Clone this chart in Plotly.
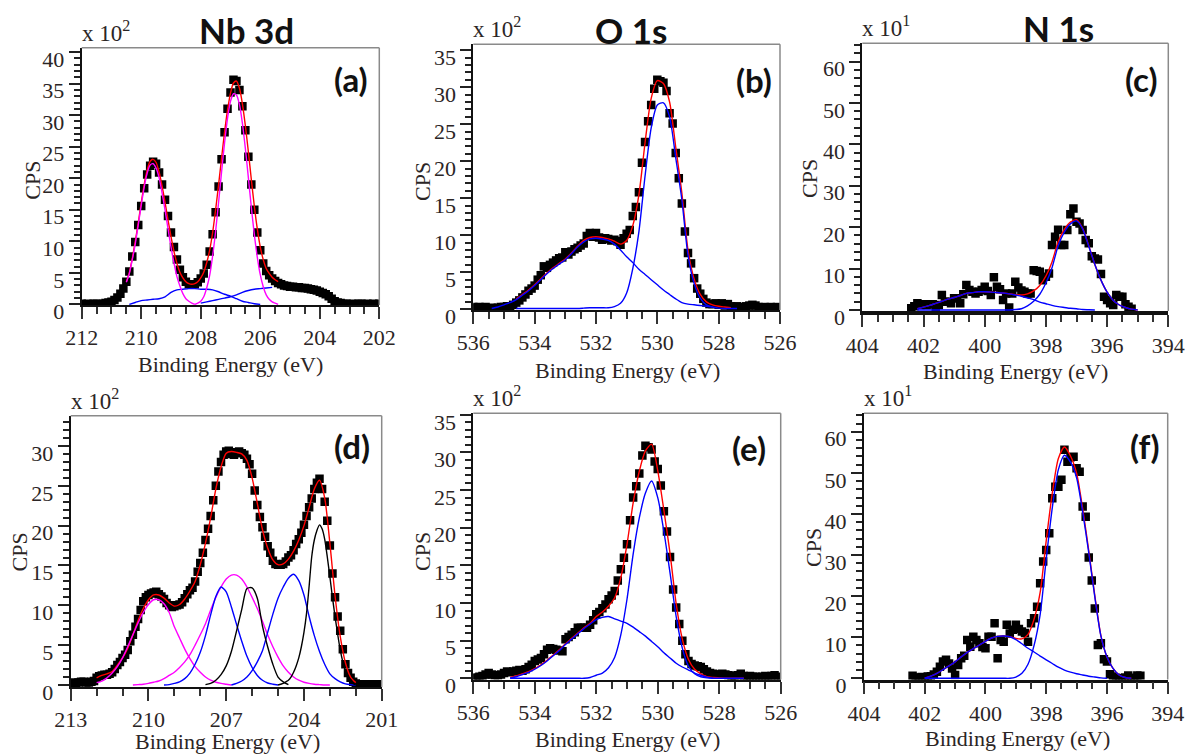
import plotly.graph_objects as go

W, H = 1188, 754

RED = "#ff0000"
MAGENTA = "#ff00ff"
BLUE = "#0000ff"
BLACK = "#000000"
TEXT = "#2b2525"
SERIF = "Liberation Serif"
SANS = "Lato"


def energies(start, step, values):
    return [round(start - step * i, 3) for i in range(len(values))]


# ---------------- (a) Nb 3d, sample 1 ----------------
a_counts_start = 212.0
a_counts = [
    0.1, 0.0, 0.1, 0.0, 0.1, 0.1, 0.0, 0.1, 0.2,
    0.3, 0.4, 0.7, 1.1, 1.7, 2.5,
    3.6, 5.2, 7.6, 9.9, 12.6, 15.6, 18.4, 20.6, 22.0, 22.6,
    22.3, 20.9, 19.0, 16.6, 14.0, 11.4, 9.1, 7.1, 5.5, 4.3,
    3.6, 3.2, 3.1, 3.2, 3.5, 4.1, 4.9, 6.3, 8.4, 11.1,
    14.6, 18.7, 23.0, 27.3, 31.0, 33.6, 35.6, 35.4, 34.0, 31.4,
    27.6, 23.4, 19.0, 15.0, 11.4, 8.6, 6.5, 5.3, 4.6, 4.1,
    3.7, 3.4, 3.2, 3.0, 2.9, 2.8, 2.8, 2.7, 2.7, 2.6,
    2.6, 2.5, 2.4, 2.3, 2.2, 2.0, 1.8, 1.6, 1.3, 0.9,
    0.5, 0.3, 0.2, 0.1,
    0.1, 0.0, 0.1, 0.0, 0.1, 0.1, 0.0, 0.1, 0.0, 0.1, 0.0, 0.1,
]
a_env_start = 210.5
a_env = [
    3.6, 5.0, 7.3, 10.0, 12.9, 16.1, 19.0, 21.3, 22.7, 23.0,
    22.5, 21.0, 18.8, 16.2, 13.4, 10.8, 8.4, 6.5, 5.1, 4.2,
    3.6, 3.3, 3.2, 3.3, 3.6, 4.2, 5.1, 6.6, 8.6, 11.4,
    15.0, 19.0, 23.2, 27.3, 30.8, 33.5, 35.1, 35.4, 34.3, 31.8,
    28.3, 24.2, 19.8, 15.6, 12.0, 9.1, 7.1, 5.7, 4.9, 4.3,
    3.9, 3.6,
]
a_d32_start = 210.5
a_d32 = [
    3.5, 4.9, 7.1, 9.6, 12.6, 15.7, 18.6, 20.8, 22.1, 22.3,
    21.6, 20.1, 17.7, 15.0, 12.0, 9.1, 6.6, 4.4, 2.9, 1.7,
    0.9, 0.5, 0.2, 0.0,
]
a_d52_start = 208.2
a_d52 = [
    0.0, 0.2, 0.5, 1.2, 2.6, 4.6, 7.7, 11.6, 16.2, 21.0,
    25.6, 29.5, 32.2, 33.4, 33.2, 31.7, 28.7, 24.7, 20.1, 15.4,
    11.1, 7.5, 4.7, 2.8, 1.5, 0.8, 0.4, 0.2, 0.0,
]
a_sat1_start = 210.4
a_sat1 = [
    0.0, 0.3, 0.6, 0.7, 0.8, 0.9, 1.2, 1.9, 2.3, 2.4,
    2.5, 2.5, 2.4, 2.4, 2.3, 2.0, 1.6, 1.3, 0.9, 0.5,
    0.3, 0.1, 0.0,
]
a_sat2_start = 208.0
a_sat2 = [0.2, 0.4, 0.6, 0.8, 1.0, 1.2, 1.5, 1.9, 2.2, 2.4, 2.5, 2.6, 2.7]

# ---------------- (b) O 1s, sample 1 ----------------
b_counts_start = 536.0
b_counts = [
    0.3, 0.2, 0.3, 0.2, 0.3, 0.1, 0.2, 0.1, 0.2, 0.3,
    0.3, 0.4, 0.4, 0.6, 0.9, 1.2, 1.6, 2.0, 2.5, 2.8,
    3.2, 4.0, 4.6, 5.8, 5.6, 6.0, 6.3, 6.6, 6.9, 7.0,
    7.7, 7.4, 7.8, 8.1, 8.3, 8.6, 8.9, 9.9, 10.3, 9.8,
    10.3, 9.7, 9.4, 9.6, 9.5, 9.3, 9.4, 9.2, 8.7, 9.6,
    10.2, 10.7, 12.6, 13.8, 15.8, 19.8, 22.6, 25.4, 27.6, 29.8,
    31.0, 30.8, 30.6, 29.5, 26.5, 25.1, 21.1, 17.7, 14.3, 10.5,
    7.6, 6.2, 4.2, 2.8, 2.1, 1.4, 0.9, 0.7, 0.7, 0.8,
    0.6, 0.8, 0.5, 0.7, 0.4, 0.3, 0.4, 0.2, 0.3, 0.4,
    0.5, 0.6, 0.5, 0.3, 0.2, 0.3, 0.2, 0.3, 0.2, 0.3,
    0.2,
]
b_env_start = 534.6
b_env = [
    1.4, 2.0, 2.6, 3.3, 4.1, 4.9, 5.6, 6.2, 6.8, 7.6,
    8.5, 9.3, 9.7, 9.8, 9.7, 9.5, 9.2, 8.8, 9.3, 11.3,
    15.5, 22.5, 28.5, 30.9, 30.5, 28.0, 21.9, 15.7, 8.0, 4.1,
    2.0, 1.0, 0.6, 0.4, 0.3, 0.2,
]
b_oh_start = 535.4
b_oh = [
    0.1, 0.3, 0.6, 0.9, 1.3, 1.9, 2.5, 3.2, 4.0, 4.8,
    5.5, 6.1, 6.7, 7.5, 8.4, 9.1, 9.5, 9.6, 9.5, 9.3,
    8.8, 8.0, 7.1, 6.3, 5.4, 4.7, 4.0, 3.3, 2.6, 2.0,
    1.4, 0.9, 0.7, 0.6, 0.5, 0.4, 0.3,
]
b_ox_start = 534.6
b_ox = [
    0.1, 0.1, 0.1, 0.1, 0.1, 0.1, 0.1, 0.1, 0.1, 0.1,
    0.1, 0.15, 0.2, 0.2, 0.2, 0.2, 0.35, 0.8, 2.2, 5.5,
    10.5, 18.0, 24.5, 27.6, 27.9, 26.0, 20.5, 14.8, 7.3, 3.5,
    1.5, 0.6, 0.3, 0.15, 0.1, 0.1, 0.1,
]

# ---------------- (c) N 1s, sample 1 ----------------
c_counts_start = 402.4
c_counts = [
    0.4, 0.9, 1.6, 1.2, 1.4, 1.2, 1.4, 1.4, 0.8, 1.2,
    3.6, 2.0, 2.0, 1.6, 2.8, 2.8, 1.6, 3.8, 6.0, 4.8,
    4.4, 4.0, 4.4, 4.8, 5.6, 4.6, 3.6, 7.9, 5.6, 5.0,
    2.4, 4.0, 0.6, 4.0, 6.8, 5.4, 4.7, 4.4, 4.0, 4.0,
    9.6, 9.4, 9.2, 7.2, 8.0, 8.8, 15.7, 17.7, 19.4, 15.7,
    15.7, 19.3, 23.1, 24.5, 21.3, 20.9, 19.3, 16.9, 16.1, 13.0,
    12.4, 12.2, 8.7, 3.2, 2.4, 1.6, 1.2, 3.6, 3.2, 3.2,
    1.4, 0.8, 0.3,
]
c_env_start = 402.2
c_env = [
    0.3, 0.7, 1.1, 1.6, 2.1, 2.6, 3.0, 3.5, 4.0, 4.2,
    4.4, 4.4, 4.3, 4.2, 4.1, 3.9, 3.7, 3.6, 3.9, 4.6,
    5.9, 8.2, 11.6, 16.5, 19.4, 21.2, 21.8, 19.7, 15.5, 11.0,
    7.2, 4.3, 2.3, 1.2, 0.6, 0.2, 0.0,
]
c_high_start = 402.2
c_high = [
    0.3, 0.7, 1.1, 1.6, 2.1, 2.6, 3.0, 3.5, 4.0, 4.2,
    4.4, 4.4, 4.3, 4.2, 4.1, 3.9, 3.6, 3.3, 2.9, 2.5,
    1.9, 1.5, 1.1, 0.8, 0.6, 0.4, 0.3, 0.1, 0.05, 0.0,
]
c_nitride_start = 402.2
c_nitride = [
    0.0, 0.0, 0.0, 0.0, 0.0, 0.0, 0.0, 0.0, 0.0, 0.0,
    0.0, 0.0, 0.0, 0.0, 0.0, 0.0, 0.1, 0.3, 1.0, 2.1,
    3.8, 6.5, 10.2, 15.5, 18.8, 20.8, 21.5, 19.6, 15.4, 11.0,
    7.2, 4.3, 2.3, 1.2, 0.6, 0.2, 0.0,
]

# ---------------- (d) Nb 3d, sample 2 ----------------
d_counts_start = 213.0
d_counts = [
    0.2, 0.3, 0.2, 0.3, 0.4, 0.4, 0.3, 0.3, 0.4, 0.5,
    0.9, 1.1, 1.2, 1.3, 1.3, 1.4, 1.6, 2.0, 2.5, 2.9,
    3.4, 3.8, 4.4, 5.5, 6.3, 7.3, 8.3, 9.4, 10.5, 11.0,
    11.3, 11.5, 11.6, 11.7, 11.4, 11.1, 10.8, 10.3, 10.0, 9.8,
    9.9, 10.0, 10.1, 10.4, 10.9, 11.4, 11.9, 12.2, 13.0, 14.2,
    15.3, 16.6, 18.2, 19.6, 21.2, 23.2, 25.0, 26.8, 28.0, 28.9,
    29.3, 29.4, 29.0, 28.9, 29.2, 29.3, 29.1, 28.9, 28.4, 27.7,
    26.5, 24.4, 22.6, 21.1, 19.8, 18.6, 17.4, 16.6, 15.6, 15.2,
    15.1, 15.1, 15.2, 15.5, 16.0, 16.3, 16.9, 17.7, 18.3, 19.1,
    20.1, 21.2, 22.3, 23.4, 24.6, 25.4, 25.9, 24.6, 23.0, 20.6,
    17.5, 14.0, 11.0, 8.6, 6.8, 4.5, 2.6, 1.5, 0.9, 0.4,
    0.2, 0.1, 0.1, 0.1, 0.0, 0.1, 0.1, 0.0, 0.1, 0.1, 0.0,
]
d_env_start = 212.0
d_env = [
    0.9, 1.2, 1.4, 1.7, 2.5, 3.4, 4.6, 6.3, 8.1, 9.6,
    10.7, 11.3, 11.3, 10.9, 10.3, 9.9, 10.1, 10.8, 11.8, 13.0,
    15.1, 17.8, 21.0, 24.6, 27.4, 29.1, 29.3, 29.2, 29.0, 28.2,
    26.0, 22.8, 19.5, 17.2, 15.7, 15.1, 15.2, 15.8, 16.8, 18.2,
    20.0, 22.3, 24.6, 25.7, 23.5, 17.8, 11.2, 6.1, 2.8, 1.0,
    0.3,
]
d_ox32_start = 212.0
d_ox32 = [
    0.3, 0.5, 0.9, 1.5, 2.3, 3.4, 4.8, 6.3, 7.8, 9.1,
    10.1, 10.7, 10.7, 10.2, 9.1, 7.3, 5.9, 4.5, 3.3, 2.3,
    1.6, 1.0, 0.6, 0.35, 0.2, 0.1, 0.0,
]
d_ox52_start = 210.6
d_ox52 = [
    0.0, 0.05, 0.1, 0.2, 0.35, 0.5, 0.8, 1.2, 1.6, 2.2,
    2.9, 3.8, 5.0, 6.3, 7.7, 9.4, 11.0, 12.3, 13.3, 13.8,
    13.8, 13.3, 12.3, 11.0, 9.6, 8.0, 6.3, 4.8, 3.5, 2.4,
    1.6, 1.0, 0.6, 0.35, 0.2, 0.1, 0.05, 0.0, 0.0,
]
d_ni32_start = 209.4
d_ni32 = [
    0.0, 0.05, 0.2, 0.4, 0.8, 1.5, 2.6, 4.1, 6.2, 8.8,
    11.1, 12.3, 11.7, 9.8, 7.6, 5.5, 3.6, 2.2, 1.2, 0.6,
    0.25, 0.1, 0.0,
]
d_sub32_start = 207.8
d_sub32 = [
    0.05, 0.2, 0.6, 1.3, 2.4, 4.2, 6.8, 9.5, 12.1, 12.2,
    10.9, 7.4, 4.8, 2.6, 1.0, 0.4, 0.05,
]
d_ni52_start = 206.8
d_ni52 = [
    0.0, 0.2, 0.5, 1.0, 1.8, 2.9, 4.3, 6.6, 8.9, 10.9,
    12.3, 13.4, 13.9, 13.1, 11.3, 8.6, 6.2, 4.2, 2.6, 1.4,
    0.8, 0.4, 0.15, 0.05, 0.0,
]
d_sub52_start = 205.0
d_sub52 = [
    0.0, 0.1, 0.2, 0.4, 0.6, 1.0, 1.6, 2.4, 3.4, 4.8,
    6.6, 9.0, 12.4, 16.1, 18.2, 19.4, 20.1, 19.6, 18.3, 16.1,
    13.6, 11.0, 8.6, 6.4, 4.4, 2.9, 1.8, 1.1, 0.6, 0.2,
    0.0,
]

# ---------------- (e) O 1s, sample 2 ----------------
e_counts_start = 536.0
e_counts = [
    0.0, 0.1, 0.2, 0.3, 0.5, 0.7, 0.5, 0.4, 0.4, 0.5,
    0.7, 0.9, 0.8, 0.9, 1.0, 1.1, 1.0, 1.2, 1.5, 1.8,
    2.3, 2.5, 2.7, 3.2, 3.8, 4.0, 3.9, 3.8, 3.7, 3.6,
    5.2, 5.5, 5.8, 6.1, 6.7, 6.7, 6.7, 6.7, 7.1, 7.7,
    8.5, 8.8, 9.3, 9.8, 10.5, 11.0, 11.6, 13.0, 14.5, 16.0,
    17.8, 21.0, 24.0, 25.5, 27.2, 29.6, 30.9, 30.7, 30.4, 28.8,
    27.8, 25.6, 22.2, 19.5, 16.1, 11.8, 9.4, 7.2, 5.0, 3.2,
    2.3, 1.9, 1.7, 1.6, 1.5, 1.2, 0.9, 0.7, 0.6, 0.5,
    0.5, 0.6, 0.5, 0.4, 0.3, 0.3, 0.4, 0.6, 0.3, 0.2,
    0.3, 0.2, 0.2, 0.1, 0.2, 0.3, 0.2, 0.3, 0.4, 0.2,
    0.0,
]
e_env_start = 534.8
e_env = [
    0.1, 0.3, 0.6, 0.9, 1.3, 1.8, 2.4, 3.1, 3.8, 4.6,
    5.3, 6.0, 6.7, 7.3, 8.2, 8.8, 9.6, 10.7, 13.4, 17.8,
    23.3, 27.5, 30.2, 31.1, 27.6, 22.3, 16.6, 9.9, 5.2, 2.5,
    1.2, 0.6, 0.2, 0.1, 0.05, 0.0, 0.0, 0.0, 0.0,
]
e_oh_start = 534.8
e_oh = [
    0.0, 0.2, 0.5, 0.8, 1.2, 1.7, 2.3, 3.0, 3.7, 4.5,
    5.2, 5.9, 6.6, 7.2, 7.8, 8.1, 8.2, 7.9, 7.6, 7.3,
    6.8, 6.2, 5.6, 4.9, 4.2, 3.4, 2.7, 2.0, 1.5, 1.1,
    0.7, 0.4, 0.15, 0.0,
]
e_ox_start = 534.8
e_ox = [
    0.0, 0.0, 0.0, 0.0, 0.0, 0.0, 0.0, 0.0, 0.0, 0.0,
    0.0, 0.0, 0.0, 0.1, 0.4, 0.7, 1.4, 2.8, 5.8, 10.5,
    16.5, 21.3, 24.6, 26.2, 24.0, 19.5, 14.0, 8.2, 4.0, 1.6,
    0.6, 0.2, 0.05, 0.0, 0.0, 0.0, 0.0, 0.0, 0.0,
]

# ---------------- (f) N 1s, sample 2 ----------------
f_counts_start = 402.4
f_counts = [
    0.6, 0.2, 0.1, 0.3, 0.2, 0.4, 0.5, 0.9, 1.6, 2.8,
    4.1, 4.5, 3.6, 2.4, 0.8, 3.2, 4.9, 5.5, 9.3, 7.7,
    10.1, 9.3, 8.5, 7.6, 7.3, 10.1, 10.1, 13.4, 4.9, 9.3,
    8.9, 13.0, 10.9, 11.8, 13.0, 12.0, 11.4, 11.0, 8.9, 13.4,
    14.6, 17.4, 23.1, 28.4, 31.2, 35.3, 43.8, 46.6, 46.6, 48.3,
    55.6, 52.7, 53.8, 53.9, 51.1, 50.3, 41.8, 39.3, 29.4, 23.8,
    17.0, 8.1, 8.5, 4.6, 4.1, 1.0, 0.4, 0.1, 0.0, 0.0,
    0.2, 0.7, 0.1, 0.0, 0.7, 0.6,
]
f_env_start = 402.0
f_env = [
    0.0, 0.5, 1.2, 2.1, 3.0, 4.0, 5.2, 6.3, 7.2, 8.1,
    9.0, 9.8, 10.2, 10.3, 10.1, 9.7, 9.6, 10.7, 14.4, 20.9,
    33.5, 45.1, 53.5, 56.3, 54.1, 49.9, 41.3, 31.1, 20.1, 10.4,
    5.2, 2.4, 0.8, 0.2, 0.0,
]
f_high_start = 402.0
f_high = [
    0.0, 0.5, 1.2, 2.1, 3.0, 4.0, 5.2, 6.3, 7.2, 8.1,
    9.0, 9.8, 10.2, 10.3, 10.1, 9.4, 8.4, 7.3, 6.4, 5.4,
    4.5, 3.6, 2.7, 2.0, 1.5, 1.1, 0.8, 0.5, 0.3, 0.1,
    0.0,
]
f_nitride_start = 402.0
f_nitride = [
    0.0, 0.0, 0.0, 0.0, 0.0, 0.0, 0.0, 0.0, 0.0, 0.0,
    0.0, 0.0, 0.0, 0.0, 0.0, 0.3, 1.2, 3.4, 8.0, 15.5,
    29.0, 41.5, 50.8, 54.3, 52.6, 48.8, 40.5, 30.6, 19.8, 10.3,
    5.2, 2.4, 0.8, 0.2, 0.0,
]

# Page geometry of each plot box: (left, top, right, bottom) in pixels
panels = [
    dict(box=(81.7, 47.7, 379.3, 305.0), xrange=[212, 202], yrange=[-0.1, 40.7],
         xdtick=2, xminor=0.5, ydtick=5, yminor=1, exp="2", base_w=2,
         counts=(a_counts_start, 0.1, a_counts),
         curves=[(a_env_start, 0.1, a_env, RED), (a_sat1_start, 0.2, a_sat1, BLUE),
                 (a_sat2_start, 0.2, a_sat2, BLUE), (a_d32_start, 0.1, a_d32, MAGENTA),
                 (a_d52_start, 0.1, a_d52, MAGENTA)],
         title=("Nb 3d", 246, 29.5), label=("(a)", 351, 79),
         cps=(31.7, 180), xlab=(230, 365)),
    dict(box=(473.3, 44.3, 780.0, 310.0), xrange=[536, 526], yrange=[-0.1, 35.8],
         xdtick=2, xminor=0.5, ydtick=5, yminor=1, exp="2", base_w=2,
         counts=(b_counts_start, 0.1, b_counts),
         curves=[(b_env_start, 0.2, b_env, RED), (b_oh_start, 0.2, b_oh, BLUE),
                 (b_ox_start, 0.2, b_ox, BLUE)],
         title=("O 1s", 631, 30), label=("(b)", 754, 80),
         cps=(422, 182), xlab=(627, 370)),
    dict(box=(862.3, 43.3, 1168.3, 311.0), xrange=[404, 394], yrange=[-0.25, 64.4],
         xdtick=2, xminor=0.5, ydtick=10, yminor=2, exp="1", base_w=3.5,
         counts=(c_counts_start, 0.1, c_counts),
         curves=[(c_env_start, 0.2, c_env, RED), (c_high_start, 0.2, c_high, BLUE),
                 (c_nitride_start, 0.2, c_nitride, BLUE)],
         title=("N 1s", 1058, 28), label=("(c)", 1141, 79),
         cps=(810, 178), xlab=(1015, 371)),
    dict(box=(70.7, 415.7, 381.7, 687.0), xrange=[213, 201], yrange=[-0.25, 33.8],
         xdtick=3, xminor=1, ydtick=5, yminor=1, exp="2", base_w=2,
         counts=(d_counts_start, 0.1, d_counts),
         curves=[(d_env_start, 0.2, d_env, RED), (d_ox32_start, 0.2, d_ox32, MAGENTA),
                 (d_ox52_start, 0.2, d_ox52, MAGENTA), (d_ni32_start, 0.2, d_ni32, BLUE),
                 (d_ni52_start, 0.2, d_ni52, BLUE), (d_sub32_start, 0.2, d_sub32, BLACK),
                 (d_sub52_start, 0.1, d_sub52, BLACK)],
         title=None, label=("(d)", 352, 446),
         cps=(18.5, 552), xlab=(227, 741)),
    dict(box=(473.3, 413.3, 780.7, 679.5), xrange=[536, 526], yrange=[-0.16, 35.2],
         xdtick=2, xminor=0.5, ydtick=5, yminor=1, exp="2", base_w=2,
         counts=(e_counts_start, 0.1, e_counts),
         curves=[(e_env_start, 0.2, e_env, RED), (e_oh_start, 0.2, e_oh, BLUE),
                 (e_ox_start, 0.2, e_ox, BLUE)],
         title=None, label=("(e)", 749, 448),
         cps=(422, 552), xlab=(627, 739)),
    dict(box=(864.0, 413.3, 1167.7, 679.5), xrange=[404, 394], yrange=[-0.3, 64.5],
         xdtick=2, xminor=0.5, ydtick=10, yminor=2, exp="1", base_w=2.5,
         counts=(f_counts_start, 0.1, f_counts),
         curves=[(f_env_start, 0.2, f_env, RED), (f_high_start, 0.2, f_high, BLUE),
                 (f_nitride_start, 0.2, f_nitride, BLUE)],
         title=None, label=("(f)", 1145, 446),
         cps=(813, 548), xlab=(1017, 738)),
]


def px_x(x):
    return x / W


def px_y(y):
    return 1 - y / H


fig = go.Figure()
layout = dict(
    width=W, height=H, autosize=False,
    margin=dict(l=0, r=0, t=0, b=0, pad=0, autoexpand=False),
    paper_bgcolor="white", plot_bgcolor="white", showlegend=False,
)
shapes, annotations = [], []
tickfont = dict(family=SERIF, size=22, color=TEXT)

for i, p in enumerate(panels, start=1):
    xa, ya = f"x{i}", f"y{i}"
    left, top, right, bottom = p["box"]

    start, step, vals = p["counts"]
    fig.add_trace(go.Scatter(
        x=energies(start, step, vals), y=vals, mode="markers",
        marker=dict(symbol="square", size=8.5, color=BLACK, line=dict(width=0)),
        xaxis=xa, yaxis=ya, hoverinfo="skip"))
    for start, step, vals, color in p["curves"]:
        fig.add_trace(go.Scatter(
            x=energies(start, step, vals), y=vals, mode="lines",
            line=dict(color=color, width=1.4, shape="spline", smoothing=0.7),
            xaxis=xa, yaxis=ya, hoverinfo="skip"))

    layout[f"xaxis{i}"] = dict(
        domain=[px_x(left), px_x(right)], range=p["xrange"], anchor=ya,
        showline=True, linecolor="#111111", linewidth=p["base_w"],
        ticks="outside", ticklen=12, tickwidth=1.5, tickcolor="#333333",
        tick0=0, dtick=p["xdtick"], ticklabelstandoff=0, automargin=False,
        minor=dict(dtick=p["xminor"], ticks="outside", ticklen=7,
                   tickwidth=1.5, tickcolor="#333333", showgrid=False),
        showgrid=False, zeroline=False, tickfont=tickfont, fixedrange=True)
    layout[f"yaxis{i}"] = dict(
        domain=[px_y(bottom), px_y(top)], range=p["yrange"], anchor=xa,
        showline=True, linecolor="#111111", linewidth=2,
        ticks="outside", ticklen=11, tickwidth=1.5, tickcolor="#222222",
        tick0=0, dtick=p["ydtick"], ticklabelshift=7, ticklabelstandoff=0,
        automargin=False,
        minor=dict(dtick=p["yminor"], ticks="outside", ticklen=6,
                   tickwidth=1.5, tickcolor="#222222", showgrid=False),
        showgrid=False, zeroline=False, tickfont=tickfont, fixedrange=True)

    # grey top and right edges of the plot frame
    shapes.append(dict(type="line", xref="paper", yref="paper",
                       x0=px_x(left), x1=px_x(right), y0=px_y(top), y1=px_y(top),
                       line=dict(color="#8a8a8a", width=1.5)))
    shapes.append(dict(type="line", xref="paper", yref="paper",
                       x0=px_x(right), x1=px_x(right), y0=px_y(top), y1=px_y(bottom),
                       line=dict(color="#8a8a8a", width=1.5)))

    annotations.append(dict(
        text=f"x 10<sup>{p['exp']}</sup>", xref="paper", yref="paper",
        x=px_x(left - 1), y=px_y(top - 1), xanchor="left", yanchor="bottom",
        align="left", borderpad=0,
        showarrow=False, font=dict(family=SERIF, size=23, color=TEXT)))
    annotations.append(dict(
        text="CPS", xref="paper", yref="paper", x=px_x(p["cps"][0]), y=px_y(p["cps"][1]),
        textangle=-90, showarrow=False, xanchor="center", yanchor="middle",
        font=dict(family=SERIF, size=22, color=TEXT)))
    annotations.append(dict(
        text="Binding Energy (eV)", xref="paper", yref="paper",
        x=px_x(p["xlab"][0]), y=px_y(p["xlab"][1]), showarrow=False,
        xanchor="center", yanchor="middle", borderpad=0,
        font=dict(family=SERIF, size=22, color=TEXT)))
    lab, lx, ly = p["label"]
    annotations.append(dict(
        text=f"<b>{lab}</b>", xref="paper", yref="paper", x=px_x(lx), y=px_y(ly),
        showarrow=False, xanchor="center", yanchor="middle",
        font=dict(family=SANS, size=33, color="#111111")))
    if p["title"]:
        t, tx, ty = p["title"]
        annotations.append(dict(
            text=f"<b>{t}</b>", xref="paper", yref="paper", x=px_x(tx), y=px_y(ty),
            showarrow=False, xanchor="center", yanchor="middle",
            font=dict(family=SANS, size=35, color="#111111")))

layout["shapes"] = shapes
layout["annotations"] = annotations
fig.update_layout(**layout)
fig.write_html("out.html")
